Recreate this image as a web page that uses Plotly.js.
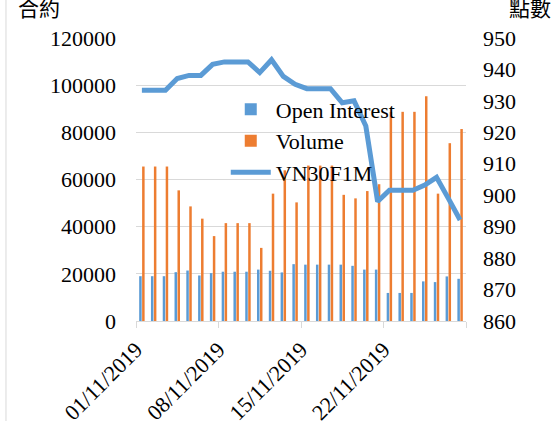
<!DOCTYPE html>
<html>
<head>
<meta charset="utf-8">
<script src="https://cdn.plot.ly/plotly-3.0.1.min.js"></script>
<style>
  html, body { margin: 0; padding: 0; background: #ffffff; }
  #chart { width: 553px; height: 421px; }
</style>
</head>
<body>
<div id="chart"></div>
<script>
// ---- Data ----
const dates = [
  '2019-11-01','2019-11-02','2019-11-03','2019-11-04','2019-11-05','2019-11-06','2019-11-07',
  '2019-11-08','2019-11-09','2019-11-10','2019-11-11','2019-11-12','2019-11-13','2019-11-14',
  '2019-11-15','2019-11-16','2019-11-17','2019-11-18','2019-11-19','2019-11-20','2019-11-21',
  '2019-11-22','2019-11-23','2019-11-24','2019-11-25','2019-11-26','2019-11-27','2019-11-28'
];
const openInterest = [
  19000, 19000, 19000, 20700, 21400, 19300, 20300,
  20900, 20900, 20900, 21800, 21300, 20600, 24100,
  23900, 23900, 23900, 23900, 23400, 21800, 21800,
  11900, 11900, 11900, 16800, 16500, 18900, 17900
];
const volume = [
  65500, 65500, 65500, 55400, 48600, 43400, 36000,
  41500, 41500, 41500, 31000, 54000, 63900, 50300,
  65900, 65900, 65900, 53500, 52000, 55100, 58000,
  88700, 88700, 88700, 95300, 54000, 75400, 81400
];
const vn30f1m = [
  933.4, 933.4, 933.4, 937.1, 938.1, 938.1, 941.6,
  942.4, 942.4, 942.4, 939.0, 943.1, 937.8, 935.3,
  933.9, 933.9, 933.9, 929.4, 930.0, 922.0, 898.0,
  901.6, 901.6, 901.6, 903.2, 905.7, 899.0, 892.1
];
const tickLabels = ['01/11/2019', '08/11/2019', '15/11/2019', '22/11/2019', ''];
const seriesNames = ['Open Interest', 'Volume', 'VN30F1M'];
const leftTitle = '合約';
const rightTitle = '點數';

// ---- Helpers ----
const HALF_DAY = 12 * 3600 * 1000;
function boundaryBefore(iso) {
  const p = iso.split('-').map(Number);
  return Date.UTC(p[0], p[1] - 1, p[2]) - HALF_DAY;
}
function boundaryAfter(iso) {
  const p = iso.split('-').map(Number);
  return Date.UTC(p[0], p[1] - 1, p[2]) + HALF_DAY;
}
function isoOf(ms) {
  const d = new Date(ms);
  const pad = n => String(n).padStart(2, '0');
  return d.getUTCFullYear() + '-' + pad(d.getUTCMonth() + 1) + '-' + pad(d.getUTCDate()) +
         ' ' + pad(d.getUTCHours()) + ':' + pad(d.getUTCMinutes());
}
const tickVals = [0, 7, 14, 21].map(i => isoOf(boundaryBefore(dates[i])));
tickVals.push(isoOf(boundaryAfter(dates[dates.length - 1])));
const xRange = [isoOf(boundaryBefore(dates[0])), isoOf(boundaryAfter(dates[dates.length - 1]))];

const BLUE = '#5B9BD5';
const ORANGE = '#ED7D31';
const GRID = '#D9D9D9';
const SERIF = '"Liberation Serif", "Times New Roman", serif';
const CJK = '"Noto Sans CJK TC", "Noto Sans CJK SC", sans-serif';

const traces = [
  { type: 'bar', name: seriesNames[0], x: dates, y: openInterest,
    marker: { color: BLUE }, yaxis: 'y' },
  { type: 'bar', name: seriesNames[1], x: dates, y: volume,
    marker: { color: ORANGE }, yaxis: 'y' },
  { type: 'scatter', mode: 'lines', name: seriesNames[2], x: dates, y: vn30f1m,
    line: { color: BLUE, width: 5 }, yaxis: 'y2' }
];

const layout = {
  width: 553, height: 421,
  margin: { l: 136, r: 87, t: 38, b: 100 },
  paper_bgcolor: '#ffffff', plot_bgcolor: '#ffffff',
  font: { family: SERIF, size: 22, color: '#000000' },
  barmode: 'group', bargap: 0.5, bargroupgap: 0.15,
  showlegend: true,
  legend: {
    x: 0.272, xanchor: 'left', y: 0.822, yanchor: 'top',
    bgcolor: 'rgba(0,0,0,0)', borderwidth: 0,
    font: { family: SERIF, size: 22, color: '#000000' },
    tracegroupgap: 0, itemwidth: 40
  },
  xaxis: {
    type: 'date', range: xRange,
    tickmode: 'array', tickvals: tickVals, ticktext: tickLabels,
    tickangle: -45, ticks: 'outside', ticklen: 6, tickcolor: GRID,
    showline: true, linecolor: GRID, linewidth: 1,
    showgrid: false, zeroline: false,
    tickfont: { family: SERIF, size: 22, color: '#000000' }
  },
  yaxis: {
    range: [0, 120000], dtick: 20000, tickformat: 'd',
    showgrid: true, gridcolor: GRID, gridwidth: 1,
    zeroline: false, showline: false, ticks: '',
    ticklabelstandoff: 19,
    tickfont: { family: SERIF, size: 22, color: '#000000' }
  },
  yaxis2: {
    range: [860, 950], dtick: 10, overlaying: 'y', side: 'right',
    showgrid: false, zeroline: false, showline: false, ticks: '',
    ticklabelstandoff: 16,
    tickfont: { family: SERIF, size: 22, color: '#000000' }
  },
  annotations: [
    { text: leftTitle, xref: 'paper', yref: 'paper', x: -0.365, y: 1.17,
      xanchor: 'left', yanchor: 'top', showarrow: false,
      font: { family: CJK, size: 21, color: '#000000' } },
    { text: rightTitle, xref: 'paper', yref: 'paper', x: 1.263, y: 1.17,
      xanchor: 'right', yanchor: 'top', showarrow: false,
      font: { family: CJK, size: 21, color: '#000000' } }
  ],
  shapes: [
    { type: 'line', xref: 'paper', yref: 'paper', x0: -0.394, x1: -0.394, y0: -0.36, y1: 1.14,
      line: { color: GRID, width: 1 } }
  ]
};

Plotly.newPlot('chart', traces, layout, { displayModeBar: false, staticPlot: true });
</script>
</body>
</html>
